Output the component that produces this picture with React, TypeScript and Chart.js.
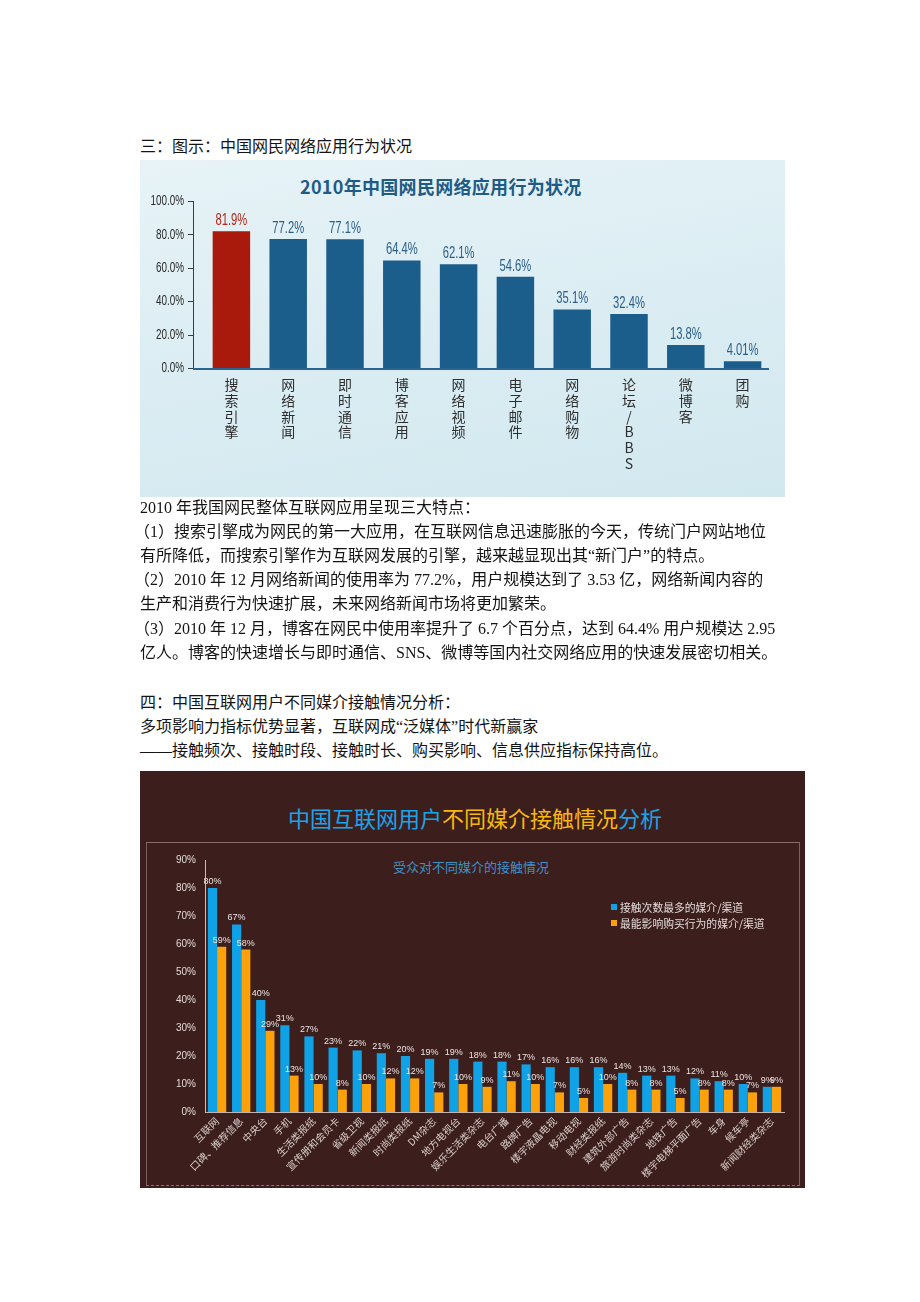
import React, { useEffect, useRef } from 'react';
import { Chart, registerables } from 'chart.js';

Chart.register(...registerables);

// ---------- Chart 1 data ----------
const appCategories = ['搜索引擎', '网络新闻', '即时通信', '博客应用', '网络视频', '电子邮件', '网络购物', '论坛/BBS', '微博客', '团购'];
const appValues = [81.9, 77.2, 77.1, 64.4, 62.1, 54.6, 35.1, 32.4, 13.8, 4.01];
const appTicks = [0, 20, 40, 60, 80, 100];

// ---------- Chart 2 data ----------
const mediaCategories = ['互联网', '口碑、推荐信息', '中央台', '手机', '生活类报纸', '宣传册和会员卡', '省级卫视', '新闻类报纸', '时尚类报纸', 'DM杂志', '地方电视台', '娱乐生活类杂志', '电台广播', '路牌广告', '楼宇液晶电视', '移动电视', '财经类报纸', '建筑外部广告', '旅游时尚类杂志', '地铁广告', '楼宇电梯平面广告', '车身', '候车亭', '新闻财经类杂志'];
const contactValues = [80, 67, 40, 31, 27, 23, 22, 21, 20, 19, 19, 18, 18, 17, 16, 16, 16, 14, 13, 13, 12, 11, 10, 9];
const purchaseValues = [59, 58, 29, 13, 10, 8, 10, 12, 12, 7, 10, 9, 11, 10, 7, 5, 10, 8, 8, 5, 8, 8, 7, 9];
const seriesNames = ['接触次数最多的媒介/渠道', '最能影响购买行为的媒介/渠道'];
const seriesColors = ['#10a2e6', '#fda10b'];

const CJK = "'Noto Sans CJK SC', sans-serif";
const SANS = "'Liberation Sans', Arial, 'Noto Sans CJK SC', sans-serif";
const DOC_FONT = "'Liberation Serif', 'Noto Sans CJK SC', serif";

function drawCondensed(ctx: any, text: string, x: number, y: number, sx: number) {
  ctx.save();
  ctx.translate(x, y);
  ctx.scale(sx, 1);
  ctx.fillText(text, 0, 0);
  ctx.restore();
}

const axisPlugin1 = {
  id: 'axis1',
  beforeDatasetsDraw(chart: any) {
    const ctx = chart.ctx;
    const ys = chart.scales.y;
    const area = chart.chartArea;
    const ax = area.left - 10;
    ctx.save();
    ctx.strokeStyle = '#3c3c3c';
    ctx.lineWidth = 1;
    ctx.beginPath();
    ctx.moveTo(ax + 0.5, ys.getPixelForValue(100));
    ctx.lineTo(ax + 0.5, ys.getPixelForValue(0));
    ys.ticks.forEach((t: any) => {
      const py = Math.round(ys.getPixelForValue(t.value)) + 0.5;
      ctx.moveTo(ax - 5, py);
      ctx.lineTo(ax + 0.5, py);
    });
    ctx.stroke();
    // condensed y tick labels, taken from the scale's own ticks
    ctx.font = `15px ${SANS}`;
    ctx.fillStyle = '#2a2a2a';
    ctx.textAlign = 'right';
    ctx.textBaseline = 'middle';
    ys.ticks.forEach((t: any) => {
      drawCondensed(ctx, Number(t.value).toFixed(1) + '%', ax - 9, ys.getPixelForValue(t.value), 0.66);
    });
    ctx.restore();
  },
  afterDatasetsDraw(chart: any) {
    const ctx = chart.ctx;
    const ys = chart.scales.y;
    const area = chart.chartArea;
    const ax = area.left - 10;
    ctx.save();
    ctx.strokeStyle = '#2a6592';
    ctx.lineWidth = 2;
    ctx.beginPath();
    const y0 = ys.getPixelForValue(0) + 1;
    ctx.moveTo(ax, y0);
    ctx.lineTo(area.right - 2, y0);
    ctx.stroke();
    // value labels
    const meta = chart.getDatasetMeta(0);
    ctx.font = `17px ${SANS}`;
    ctx.textAlign = 'center';
    ctx.textBaseline = 'alphabetic';
    meta.data.forEach((bar: any, i: number) => {
      ctx.fillStyle = i === 0 ? '#b3281b' : '#2b5f88';
      drawCondensed(ctx, String(appValues[i]) + '%', bar.x, bar.y - 6, 0.66);
    });
    ctx.restore();
  },
};

const valuePlugin2 = {
  id: 'values2',
  afterDatasetsDraw(chart: any) {
    const ctx = chart.ctx;
    ctx.save();
    ctx.font = `9px ${SANS}`;
    ctx.fillStyle = '#ece3e1';
    ctx.textAlign = 'center';
    ctx.textBaseline = 'alphabetic';
    const sets = [contactValues, purchaseValues];
    sets.forEach((vals, di) => {
      const meta = chart.getDatasetMeta(di);
      meta.data.forEach((bar: any, i: number) => {
        ctx.fillText(String(vals[i]) + '%', bar.x, bar.y - 4);
      });
    });
    ctx.restore();
  },
};

function ChartOne() {
  const ref = useRef<HTMLCanvasElement | null>(null);
  useEffect(() => {
    if (!ref.current) return;
    const chart = new Chart(ref.current, {
      type: 'bar',
      data: {
        labels: appCategories.map((c) => Array.from(c)),
        datasets: [
          {
            data: appValues,
            backgroundColor: appValues.map((_, i) => (i === 0 ? '#a9190c' : '#1b5e8c')),
            barPercentage: 0.66,
            categoryPercentage: 1,
          },
        ],
      },
      options: {
        responsive: false,
        animation: false,
        layout: { padding: { top: 41, right: 14, left: 0, bottom: 0 } },
        plugins: { legend: { display: false }, tooltip: { enabled: false } },
        scales: {
          x: {
            grid: { display: false, drawTicks: false },
            border: { display: false },
            ticks: {
              color: '#2e2e2e',
              font: { family: CJK, size: 14, lineHeight: 1.12 },
              padding: 9,
              autoSkip: false,
              maxRotation: 0,
              minRotation: 0,
            },
            afterFit: (s: any) => {
              s.height = 129;
            },
          },
          y: {
            min: 0,
            max: 100,
            grid: { display: false, drawTicks: false },
            border: { display: false },
            afterBuildTicks: (s: any) => {
              s.ticks = appTicks.map((v) => ({ value: v }));
            },
            ticks: { display: false },
            afterFit: (s: any) => {
              s.width = 63;
            },
          },
        },
      },
      plugins: [axisPlugin1],
    } as any);
    return () => chart.destroy();
  }, []);
  return (
    <div
      style={{
        position: 'absolute',
        left: 140,
        top: 160,
        width: 645,
        height: 337,
        background: 'linear-gradient(170deg, #e7f3f7 0%, #dbedf3 50%, #d2e8ef 100%)',
      }}
    >
      <div
        style={{
          position: 'absolute',
          left: 160,
          top: 14,
          height: 24,
          lineHeight: '24px',
          fontFamily: CJK,
          fontWeight: 'bold',
          fontSize: 18,
          letterSpacing: '0.3px',
          color: '#1e5b85',
          whiteSpace: 'nowrap',
        }}
      >
        2010年中国网民网络应用行为状况
      </div>
      <canvas ref={ref} width={645} height={337} style={{ position: 'absolute', left: 0, top: 0, width: 645, height: 337 }} />
    </div>
  );
}

function ChartTwo() {
  const ref = useRef<HTMLCanvasElement | null>(null);
  useEffect(() => {
    if (!ref.current) return;
    const chart = new Chart(ref.current, {
      type: 'bar',
      data: {
        labels: mediaCategories,
        datasets: [
          { label: seriesNames[0], data: contactValues, backgroundColor: seriesColors[0], barPercentage: 1, categoryPercentage: 0.76 },
          { label: seriesNames[1], data: purchaseValues, backgroundColor: seriesColors[1], barPercentage: 1, categoryPercentage: 0.76 },
        ],
      },
      options: {
        responsive: false,
        animation: false,
        layout: { padding: { top: 89, right: 21, left: 0, bottom: 0 } },
        plugins: { legend: { display: false }, tooltip: { enabled: false } },
        scales: {
          x: {
            grid: { display: false, drawTicks: false },
            border: { display: true, color: '#c4b4b1', width: 1 },
            ticks: {
              color: '#d9cfcd',
              font: { family: CJK, size: 10 },
              padding: 3,
              autoSkip: false,
              maxRotation: 45,
              minRotation: 45,
            },
            afterFit: (s: any) => {
              s.height = 76;
            },
          },
          y: {
            min: 0,
            max: 90,
            grid: { display: false, drawTicks: false },
            border: { display: true, color: '#cbbdbb', width: 1 },
            ticks: {
              stepSize: 10,
              color: '#e2dad8',
              font: { family: SANS, size: 10 },
              padding: 9,
              callback: (v: any) => v + '%',
            },
            afterFit: (s: any) => {
              s.width = 65;
            },
          },
        },
      },
      plugins: [valuePlugin2],
    } as any);
    return () => chart.destroy();
  }, []);
  return (
    <div style={{ position: 'absolute', left: 140, top: 771, width: 665, height: 417, background: '#3c1f1d', overflow: 'hidden' }}>
      <div
        style={{
          position: 'absolute',
          left: 148,
          top: 31,
          lineHeight: '30px',
          fontFamily: CJK,
          fontSize: 22,
          whiteSpace: 'nowrap',
          color: '#1aa4ea',
        }}
      >
        中国互联网用户<span style={{ color: '#f8b80e' }}>不同媒介接触情况</span>分析
      </div>
      <div
        style={{
          position: 'absolute',
          left: 6,
          top: 71,
          width: 652,
          height: 342,
          borderTop: '1px solid #8a6d69',
          borderLeft: '1px solid #7c605c',
          borderRight: '1px solid #7c605c',
          borderBottom: '1px dashed #8a7470',
        }}
      />
      <div
        style={{
          position: 'absolute',
          left: 253,
          top: 88,
          lineHeight: '16px',
          fontFamily: CJK,
          fontSize: 13,
          whiteSpace: 'nowrap',
          color: '#3c92c6',
        }}
      >
        受众对不同媒介的接触情况
      </div>
      <canvas ref={ref} width={665} height={417} style={{ position: 'absolute', left: 0, top: 0, width: 665, height: 417 }} />
      {seriesNames.map((name, i) => (
        <div key={name} style={{ position: 'absolute', left: 471, top: 128 + i * 16, height: 16, whiteSpace: 'nowrap' }}>
          <div style={{ position: 'absolute', left: 0, top: 5, width: 6, height: 6, background: seriesColors[i] }} />
          <div
            style={{
              position: 'absolute',
              left: 9,
              top: 0,
              lineHeight: '16px',
              fontFamily: CJK,
              fontSize: 10.8,
              color: '#e4dcda',
            }}
          >
            {name}
          </div>
        </div>
      ))}
    </div>
  );
}

function Line({ top, left = 140, children }: { top: number; left?: number; children: any }) {
  return (
    <div
      style={{
        position: 'absolute',
        left,
        top: top - 12,
        height: 24,
        lineHeight: '24px',
        fontSize: 16,
        whiteSpace: 'nowrap',
        fontFamily: DOC_FONT,
        color: '#141414',
      }}
    >
      {children}
    </div>
  );
}

export default function App() {
  return (
    <div style={{ position: 'absolute', left: 0, top: 0, width: 920, height: 1302, background: '#ffffff', overflow: 'hidden' }}>
      <Line top={147}>三：图示：中国网民网络应用行为状况</Line>
      <ChartOne />
      <Line top={508}>2010 年我国网民整体互联网应用呈现三大特点：</Line>
      <Line top={532} left={134}>（1）搜索引擎成为网民的第一大应用，在互联网信息迅速膨胀的今天，传统门户网站地位</Line>
      <Line top={556}>有所降低，而搜索引擎作为互联网发展的引擎，越来越显现出其“新门户”的特点。</Line>
      <Line top={580} left={134}>（2）2010 年 12 月网络新闻的使用率为 77.2%，用户规模达到了 3.53 亿，网络新闻内容的</Line>
      <Line top={604}>生产和消费行为快速扩展，未来网络新闻市场将更加繁荣。</Line>
      <Line top={629} left={134}>（3）2010 年 12 月，博客在网民中使用率提升了 6.7 个百分点，达到 64.4% 用户规模达 2.95</Line>
      <Line top={653}>亿人。博客的快速增长与即时通信、SNS、微博等国内社交网络应用的快速发展密切相关。</Line>
      <Line top={703}>四：中国互联网用户不同媒介接触情况分析：</Line>
      <Line top={727}>多项影响力指标优势显著，互联网成“泛媒体”时代新赢家</Line>
      <Line top={751}>——接触频次、接触时段、接触时长、购买影响、信息供应指标保持高位。</Line>
      <ChartTwo />
    </div>
  );
}
